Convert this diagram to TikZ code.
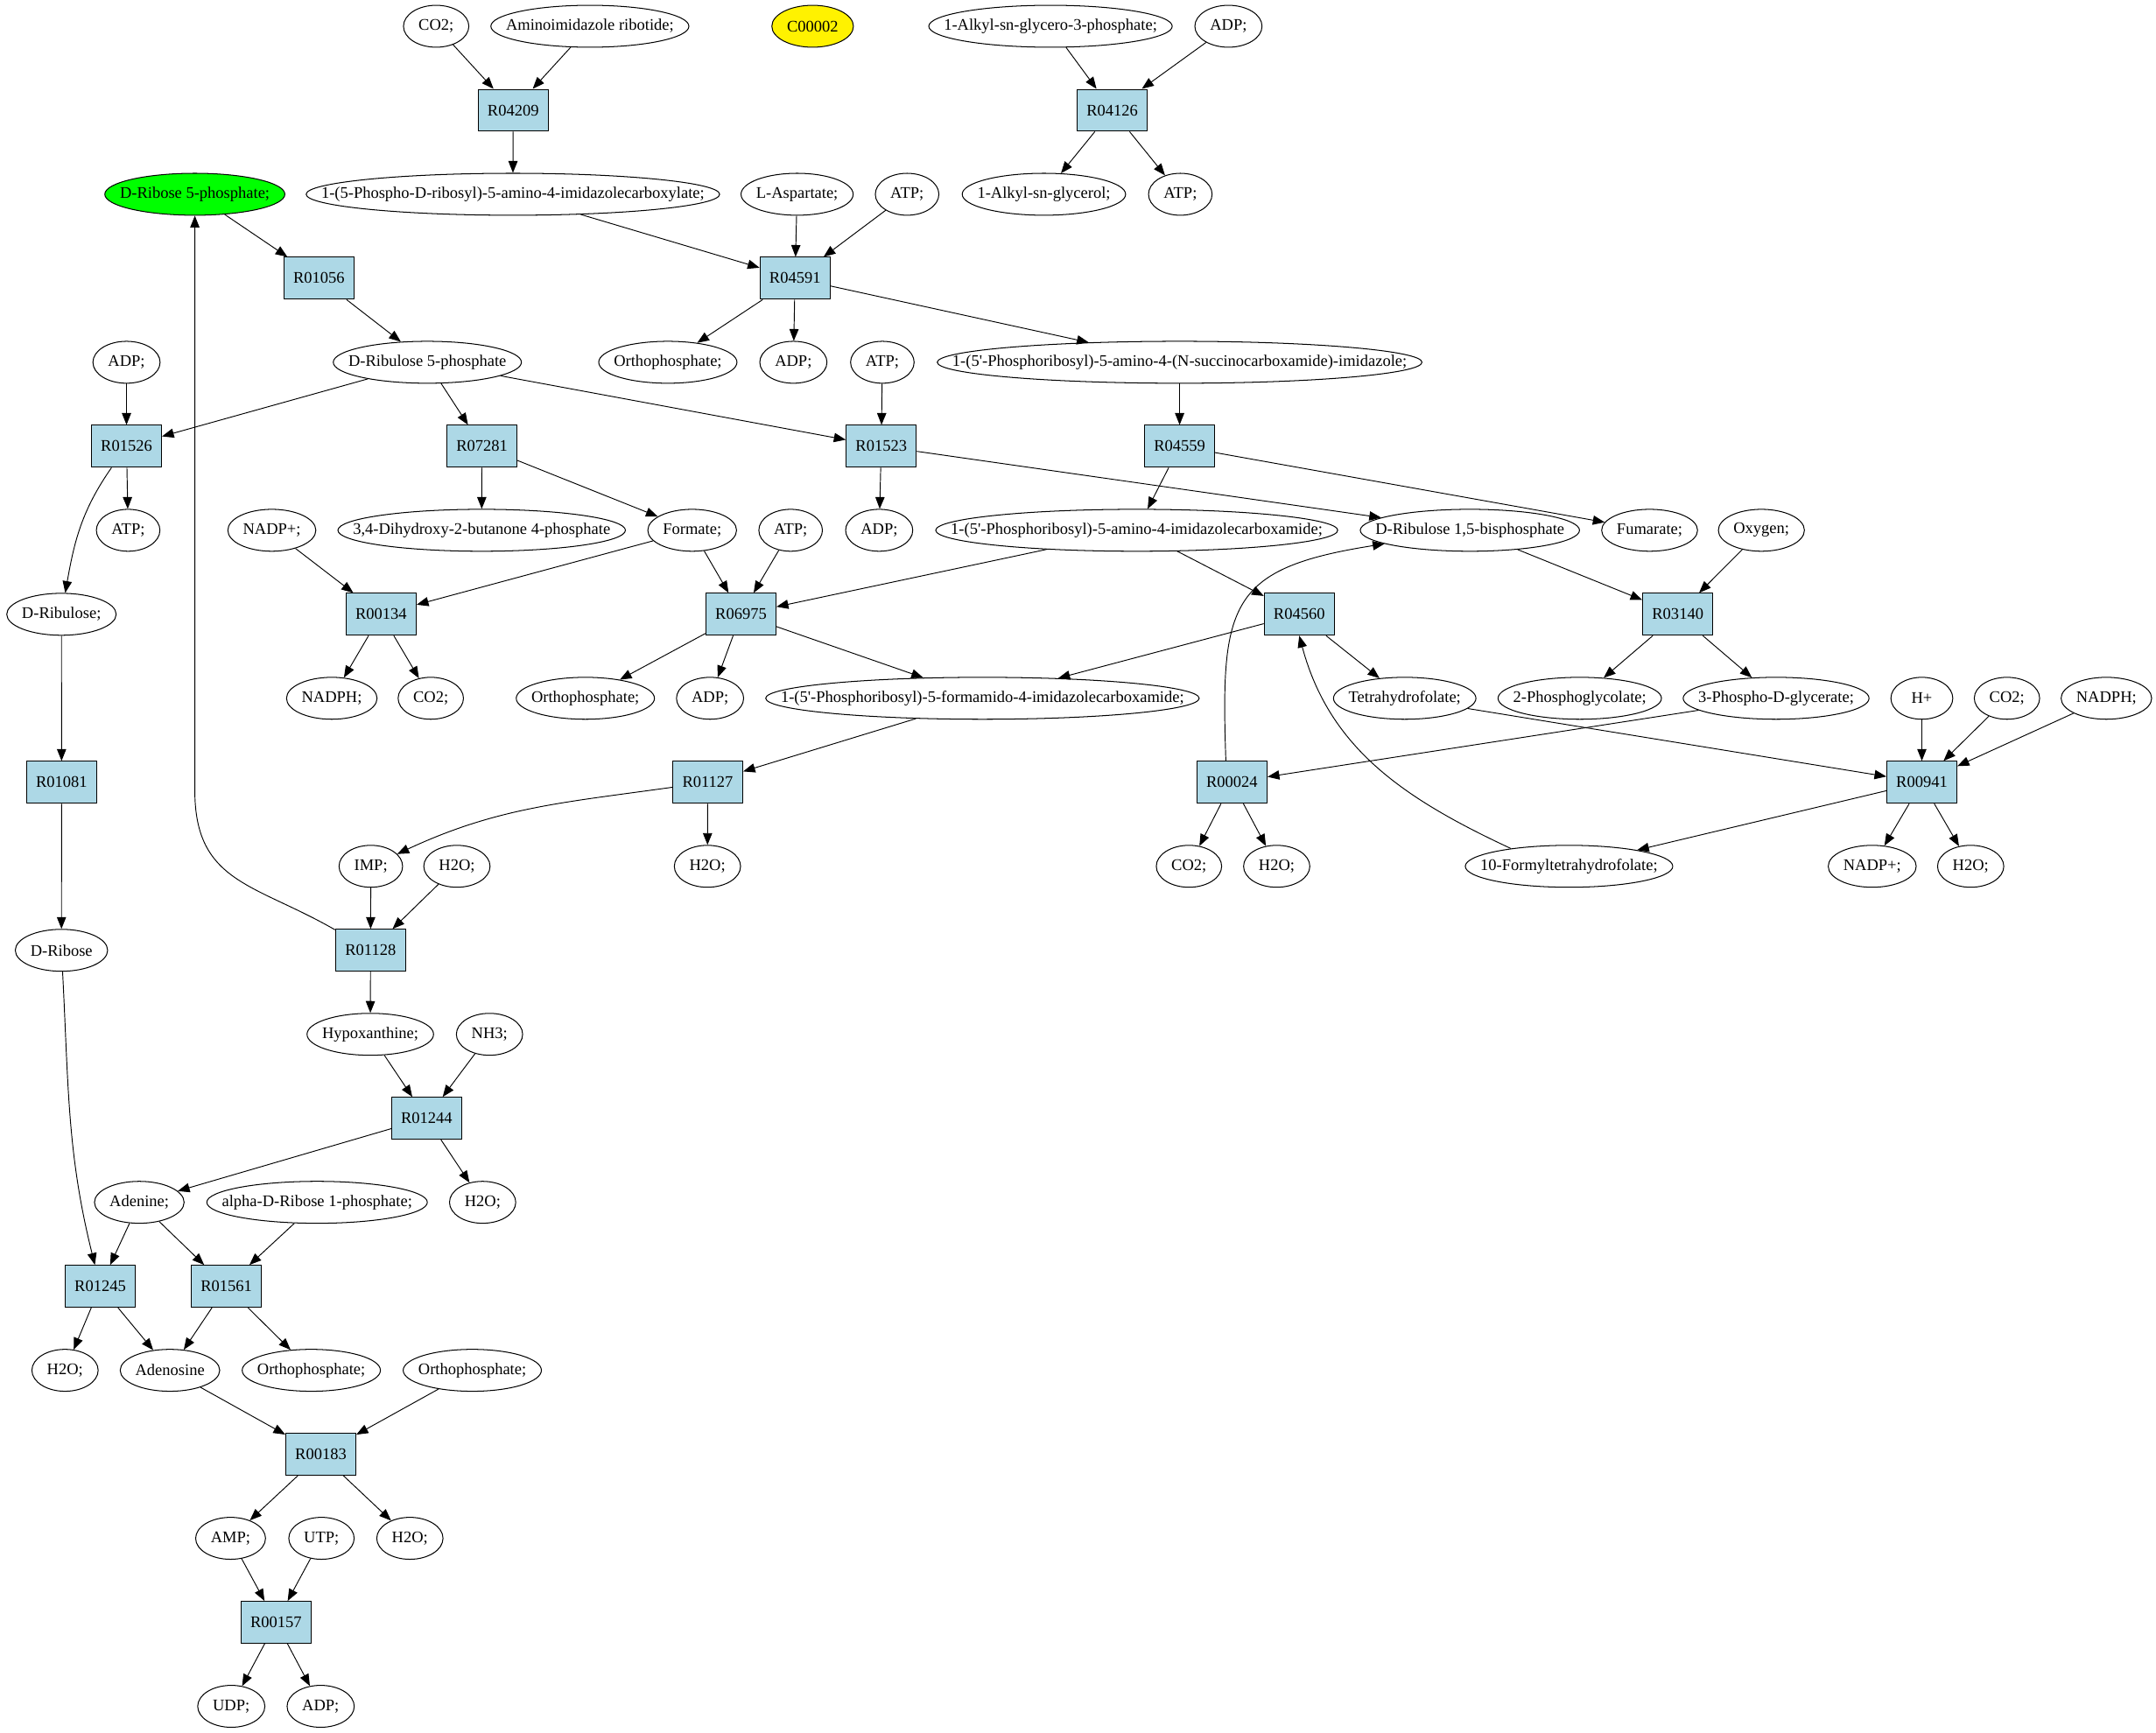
\documentclass[tikz,border=0pt]{standalone}
\usepackage{fontspec}
\newfontfamily\gvfont{Liberation Serif}
\usetikzlibrary{shapes.geometric,arrows.meta}
\definecolor{lightblue}{HTML}{ADD8E6}
\newcommand\gvsize{\fontsize{11.78pt}{14pt}\selectfont}
\newcommand\gvbox[1]{\makebox[\dimexpr0.7071\width+15.56pt\relax]{#1}}
\newcommand\metnode[5][]{%
  \node[met,#1] (#2) at (#3,#4) {\gvbox{#5}};}
\tikzset{
  met/.style={ellipse, draw, line width=0.65pt, inner sep=0pt,
    minimum width=45pt, minimum height=30.5pt, font=\gvfont\gvsize},
  rxn/.style={rectangle, draw, fill=lightblue, line width=0.65pt, inner sep=0pt,
    minimum width=51pt, minimum height=30.5pt, font=\gvfont\gvsize},
  gvedge/.style={-{Triangle[length=8.6pt,width=6.7pt]}, line width=0.6pt}
}
\begin{document}
\begin{tikzpicture}[x=1pt,y=-1pt]
\fill[white] (0,0) rectangle (1568,1260);
\useasboundingbox (0,0) rectangle (1568,1260);
% row 1
\metnode{co2a}{317.2}{19.1}{CO2;}
\metnode{air}{429}{19.1}{Aminoimidazole ribotide;}
\metnode[fill=yellow]{c2}{591}{19.1}{C00002}
\metnode{agp}{764}{19.1}{1-Alkyl-sn-glycero-3-phosphate;}
\metnode{adpa}{893.4}{19.1}{ADP;}
% row 2
\node[rxn] (R04209) at (373.2,80.2) {R04209};
\node[rxn] (R04126) at (808.9,80.2) {R04126};
% row 3
\metnode[fill=green]{r5p}{141.7}{141.3}{D-Ribose 5-phosphate;}
\metnode{cair}{373}{141.3}{1-(5-Phospho-D-ribosyl)-5-amino-4-imidazolecarboxylate;}
\metnode{asp}{579.7}{141.3}{L-Aspartate;}
\metnode{atpa}{659.7}{141.3}{ATP;}
\metnode{ag}{759.2}{141.3}{1-Alkyl-sn-glycerol;}
\metnode{atpb}{858.4}{141.3}{ATP;}
% row 4
\node[rxn] (R01056) at (232,202.4) {R01056};
\node[rxn] (R04591) at (578.2,202.4) {R04591};
% row 5
\metnode{adpb}{92}{263.5}{ADP;}
\metnode{ru5p}{310.8}{263.5}{D-Ribulose 5-phosphate}
\metnode{pia}{485.7}{263.5}{Orthophosphate;}
\metnode{adpc}{577}{263.5}{ADP;}
\metnode{atpc}{641.7}{263.5}{ATP;}
\metnode{saicar}{857.9}{263.5}{1-(5'-Phosphoribosyl)-5-amino-4-(N-succinocarboxamide)-imidazole;}
% row 6
\node[rxn] (R01526) at (92,324.6) {R01526};
\node[rxn] (R07281) at (350.5,324.6) {R07281};
\node[rxn] (R01523) at (640.9,324.6) {R01523};
\node[rxn] (R04559) at (857.9,324.6) {R04559};
% row 7
\metnode{atpd}{93.2}{385.7}{ATP;}
\metnode{nadpa}{197.7}{385.7}{NADP+;}
\metnode{dhbp}{350.3}{385.7}{3,4-Dihydroxy-2-butanone 4-phosphate}
\metnode{form}{503.4}{385.7}{Formate;}
\metnode{atpe}{575}{385.7}{ATP;}
\metnode{adpd}{639.4}{385.7}{ADP;}
\metnode{aicar}{826.7}{385.7}{1-(5'-Phosphoribosyl)-5-amino-4-imidazolecarboxamide;}
\metnode{rubp}{1069}{385.7}{D-Ribulose 1,5-bisphosphate}
\metnode{fum}{1199.7}{385.7}{Fumarate;}
\metnode{oxy}{1281}{385.7}{Oxygen;}
% row 8
\metnode{rul}{44.7}{446.8}{D-Ribulose;}
\node[rxn] (R00134) at (277.2,446.8) {R00134};
\node[rxn] (R06975) at (538.9,446.8) {R06975};
\node[rxn] (R04560) at (944.9,446.8) {R04560};
\node[rxn] (R03140) at (1220.2,446.8) {R03140};
% row 9
\metnode{nadpha}{241.3}{507.9}{NADPH;}
\metnode{co2b}{313.3}{507.9}{CO2;}
\metnode{pib}{425.7}{507.9}{Orthophosphate;}
\metnode{adpe}{516.4}{507.9}{ADP;}
\metnode{faicar}{714.5}{507.9}{1-(5'-Phosphoribosyl)-5-formamido-4-imidazolecarboxamide;}
\metnode{thf}{1021.6}{507.9}{Tetrahydrofolate;}
\metnode{pgly}{1148.9}{507.9}{2-Phosphoglycolate;}
\metnode{pga}{1291.7}{507.9}{3-Phospho-D-glycerate;}
\metnode{hplus}{1397.7}{507.9}{H+}
\metnode{co2c}{1459.6}{507.9}{CO2;}
\metnode{nadphb}{1531.9}{507.9}{NADPH;}
% row 10
\node[rxn] (R01081) at (44.8,569) {R01081};
\node[rxn] (R01127) at (514.7,569) {R01127};
\node[rxn] (R00024) at (896,569) {R00024};
\node[rxn] (R00941) at (1397.7,569) {R00941};
% row 11
\metnode{imp}{269.7}{630.1}{IMP;}
\metnode{h2oa}{332.3}{630.1}{H2O;}
\metnode{h2ob}{514.5}{630.1}{H2O;}
\metnode{co2d}{864.7}{630.1}{CO2;}
\metnode{h2oc}{928.5}{630.1}{H2O;}
\metnode{fthf}{1141.1}{630.1}{10-Formyltetrahydrofolate;}
\metnode{nadpb}{1361.6}{630.1}{NADP+;}
\metnode{h2od}{1433.2}{630.1}{H2O;}
% row 12
\metnode{rib}{44.7}{691.2}{D-Ribose}
\node[rxn] (R01128) at (269.5,691.2) {R01128};
% row 13
\metnode{hyp}{269.3}{752.3}{Hypoxanthine;}
\metnode{nh3}{356}{752.3}{NH3;}
% row 14
\node[rxn] (R01244) at (310.3,813.4) {R01244};
% row 15
\metnode{ade}{101.3}{874.5}{Adenine;}
\metnode{r1p}{230.6}{874.5}{alpha-D-Ribose 1-phosphate;}
\metnode{h2oe}{351}{874.5}{H2O;}
% row 16
\node[rxn] (R01245) at (72.9,935.6) {R01245};
\node[rxn] (R01561) at (164.6,935.6) {R01561};
% row 17
\metnode{h2of}{47.3}{996.7}{H2O;}
\metnode{ado}{123.6}{996.7}{Adenosine}
\metnode{pic}{226.4}{996.7}{Orthophosphate;}
\metnode{pid}{343.5}{996.7}{Orthophosphate;}
% row 18
\node[rxn] (R00183) at (233.3,1057.8) {R00183};
% row 19
\metnode{amp}{167.7}{1118.9}{AMP;}
\metnode{utp}{233.8}{1118.9}{UTP;}
\metnode{h2og}{298.1}{1118.9}{H2O;}
% row 20
\node[rxn] (R00157) at (200.8,1180) {R00157};
% row 21
\metnode{udp}{168.2}{1241.1}{UDP;}
\metnode{adpf}{233.2}{1241.1}{ADP;}
\coordinate (bendA) at (141.7,575);
% edges
\draw[gvedge] (co2a) -- (R04209);
\draw[gvedge] (air) -- (R04209);
\draw[gvedge] (R04209) -- (cair);
\draw[gvedge] (agp) -- (R04126);
\draw[gvedge] (adpa) -- (R04126);
\draw[gvedge] (R04126) -- (ag);
\draw[gvedge] (R04126) -- (atpb);
\draw[gvedge] (r5p) -- (R01056);
\draw[gvedge] (R01056) -- (ru5p);
\draw[gvedge] (cair) -- (R04591);
\draw[gvedge] (asp) -- (R04591);
\draw[gvedge] (atpa) -- (R04591);
\draw[gvedge] (R04591) -- (pia);
\draw[gvedge] (R04591) -- (adpc);
\draw[gvedge] (R04591) -- (saicar);
\draw[gvedge] (adpb) -- (R01526);
\draw[gvedge] (ru5p) -- (R01526);
\draw[gvedge] (ru5p) -- (R07281);
\draw[gvedge] (ru5p) -- (R01523);
\draw[gvedge] (atpc) -- (R01523);
\draw[gvedge] (saicar) -- (R04559);
\draw[gvedge] (R01526) -- (atpd);
\draw[gvedge] (R01526) to[out=-125,in=80] (rul);
\draw[gvedge] (R07281) -- (dhbp);
\draw[gvedge] (R07281) -- (form);
\draw[gvedge] (R01523) -- (adpd);
\draw[gvedge] (R01523) -- (rubp);
\draw[gvedge] (R04559) -- (aicar);
\draw[gvedge] (R04559) -- (fum);
\draw[gvedge] (nadpa) -- (R00134);
\draw[gvedge] (form) -- (R00134);
\draw[gvedge] (form) -- (R06975);
\draw[gvedge] (atpe) -- (R06975);
\draw[gvedge] (aicar) -- (R06975);
\draw[gvedge] (aicar) -- (R04560);
\draw[gvedge] (rubp) -- (R03140);
\draw[gvedge] (oxy) -- (R03140);
\draw[gvedge] (rul) -- (R01081);
\draw[gvedge] (R00134) -- (nadpha);
\draw[gvedge] (R00134) -- (co2b);
\draw[gvedge] (R06975) -- (pib);
\draw[gvedge] (R06975) -- (adpe);
\draw[gvedge] (R06975) -- (faicar);
\draw[gvedge] (R04560) -- (faicar);
\draw[gvedge] (R04560) -- (thf);
\draw[gvedge] (R03140) -- (pgly);
\draw[gvedge] (R03140) -- (pga);
\draw[gvedge] (R00024.106) to[out=92,in=189,looseness=1.5] (rubp);
\draw[gvedge] (pga) -- (R00024);
\draw[gvedge] (thf) -- (R00941);
\draw[gvedge] (hplus) -- (R00941);
\draw[gvedge] (co2c) -- (R00941);
\draw[gvedge] (nadphb) -- (R00941);
\draw[gvedge] (faicar) -- (R01127);
\draw[gvedge] (R01081) -- (rib);
\draw[gvedge] (R01127) to[out=188,in=25] (imp);
\draw[gvedge] (R01127) -- (h2ob);
\draw[gvedge] (R00024) -- (co2d);
\draw[gvedge] (R00024) -- (h2oc);
\draw[gvedge] (R00941) -- (fthf);
\draw[gvedge] (R00941) -- (nadpb);
\draw[gvedge] (R00941) -- (h2od);
\draw[gvedge] (fthf.163) to[out=155,in=-75] (R04560.south);
\draw[gvedge] (R01128) to[out=150,in=-90,looseness=1.2] (bendA) -- (r5p);
\draw[gvedge] (imp) -- (R01128);
\draw[gvedge] (h2oa) -- (R01128);
\draw[gvedge] (R01128) -- (hyp);
\draw[gvedge] (rib) to[out=-87,in=104] (R01245);
\draw[gvedge] (hyp) -- (R01244);
\draw[gvedge] (nh3) -- (R01244);
\draw[gvedge] (R01244) -- (ade);
\draw[gvedge] (R01244) -- (h2oe);
\draw[gvedge] (ade) -- (R01245);
\draw[gvedge] (ade) -- (R01561);
\draw[gvedge] (r1p) -- (R01561);
\draw[gvedge] (R01245) -- (h2of);
\draw[gvedge] (R01245) -- (ado);
\draw[gvedge] (R01561) -- (ado);
\draw[gvedge] (R01561) -- (pic);
\draw[gvedge] (ado) -- (R00183);
\draw[gvedge] (pid) -- (R00183);
\draw[gvedge] (R00183) -- (amp);
\draw[gvedge] (R00183) -- (h2og);
\draw[gvedge] (amp) -- (R00157);
\draw[gvedge] (utp) -- (R00157);
\draw[gvedge] (R00157) -- (udp);
\draw[gvedge] (R00157) -- (adpf);
\end{tikzpicture}
\end{document}
